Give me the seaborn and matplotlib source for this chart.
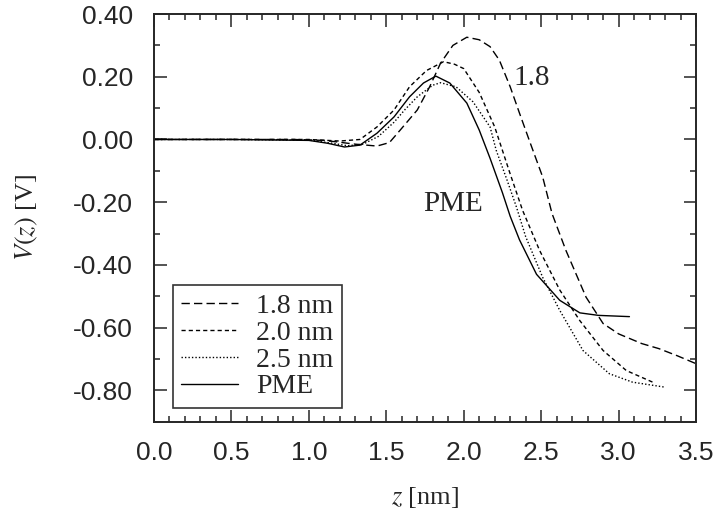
import numpy as np
import pandas as pd
import matplotlib
matplotlib.use('Agg')
import matplotlib.pyplot as plt
from matplotlib.ticker import MultipleLocator
import seaborn as sns

# Curves (z in nm, V in volts)
z_18 = [0.0, 0.5, 0.9, 1.1, 1.3, 1.44, 1.52, 1.59, 1.70, 1.78, 1.85, 1.93, 2.02, 2.10, 2.17,
        2.23, 2.30, 2.36, 2.43, 2.51, 2.57, 2.66, 2.79, 2.90, 3.00, 3.15, 3.26, 3.38, 3.50]
v_18 = [0.0, 0.0, 0.0, -0.003, -0.015, -0.021, -0.01, 0.03, 0.094, 0.168, 0.243, 0.30, 0.326, 0.318, 0.296,
        0.253, 0.168, 0.084, -0.012, -0.12, -0.236, -0.354, -0.503, -0.587, -0.62, -0.651, -0.667, -0.69, -0.715]

z_20 = [0.0, 0.5, 1.0, 1.2, 1.33, 1.44, 1.55, 1.65, 1.76, 1.87, 1.94, 2.00, 2.10, 2.20, 2.30,
        2.38, 2.49, 2.62, 2.75, 2.90, 3.05, 3.22]
v_20 = [0.0, 0.0, 0.0, -0.005, 0.0, 0.04, 0.094, 0.168, 0.22, 0.248, 0.24, 0.226, 0.15, 0.04, -0.11,
        -0.226, -0.354, -0.48, -0.578, -0.673, -0.737, -0.774]

z_25 = [0.0, 0.5, 1.0, 1.15, 1.25, 1.35, 1.45, 1.55, 1.62, 1.70, 1.80, 1.85, 1.95, 2.06, 2.17,
        2.21, 2.28, 2.34, 2.40, 2.51, 2.62, 2.77, 2.94, 3.09, 3.30]
v_25 = [0.0, 0.0, -0.002, -0.012, -0.02, -0.015, 0.01, 0.055, 0.095, 0.136, 0.173, 0.181, 0.168, 0.12, 0.04,
        -0.035, -0.13, -0.215, -0.31, -0.44, -0.545, -0.673, -0.747, -0.774, -0.79]

z_pme = [0.0, 0.5, 1.0, 1.12, 1.23, 1.33, 1.44, 1.55, 1.65, 1.74, 1.82, 1.91, 2.02, 2.10, 2.17,
         2.25, 2.30, 2.36, 2.47, 2.62, 2.75, 2.87, 3.07]
v_pme = [0.0, 0.0, -0.003, -0.012, -0.024, -0.018, 0.02, 0.072, 0.136, 0.18, 0.202, 0.18, 0.116, 0.03, -0.06,
         -0.17, -0.245, -0.32, -0.43, -0.513, -0.553, -0.561, -0.565]

labels = ['1.8 nm', '2.0 nm', '2.5 nm', 'PME']

frames = []
for lab, z, v in zip(labels, [z_18, z_20, z_25, z_pme], [v_18, v_20, v_25, v_pme]):
    frames.append(pd.DataFrame({'z': z, 'V': v, 'cutoff': lab}))
df = pd.concat(frames, ignore_index=True)

sns.set_style('ticks')
plt.rcParams['font.family'] = ['Liberation Sans', 'DejaVu Sans']
plt.rcParams['mathtext.fontset'] = 'stix'

fig = plt.figure(figsize=(7.2, 5.16), dpi=100)
ax = fig.add_axes([0.2139, 0.1828, 0.7528, 0.790])

dashes = {'1.8 nm': (6, 3), '2.0 nm': (3, 2.2), '2.5 nm': (1, 1.5), 'PME': ''}
sns.lineplot(data=df, x='z', y='V', style='cutoff', dashes=dashes, color='black',
             linewidth=1.0, sort=False, estimator=None, ax=ax)

ax.set_xlim(0, 3.5)
ax.set_ylim(-0.9, 0.4)
ax.xaxis.set_major_locator(MultipleLocator(0.5))
ax.xaxis.set_minor_locator(MultipleLocator(0.1))
ax.yaxis.set_major_locator(MultipleLocator(0.2))
ax.yaxis.set_minor_locator(MultipleLocator(0.1))
ax.xaxis.set_major_formatter(lambda t, pos: f'{t:.1f}')
ax.yaxis.set_major_formatter(lambda t, pos: f'{t:.2f}')
ax.tick_params(which='both', direction='in', top=True, right=True, labelsize=19, width=1.1)
ax.tick_params(which='major', length=9)
ax.tick_params(which='minor', length=4.5)
ax.tick_params(axis='x', pad=14)
ax.tick_params(axis='y', pad=15)
for s in ax.spines.values():
    s.set_linewidth(1.4)

serif = ['Liberation Serif', 'DejaVu Serif']
ax.set_xlabel(r'$z$ [nm]', fontsize=19, family=serif, labelpad=14)
ax.set_ylabel(r'$V(z)$ [V]', fontsize=19, family=serif, labelpad=24)

ax.text(2.44, 0.196, '1.8', fontsize=21, family=serif, ha='center', va='center')
ax.text(1.93, -0.205, 'PME', fontsize=21, family=serif, ha='center', va='center')

leg = ax.legend(loc='lower left', bbox_to_anchor=(0.0345, 0.034), borderaxespad=0,
                frameon=True, fancybox=False, edgecolor='black',
                prop={'family': serif, 'size': 20}, handlelength=2.05,
                borderpad=0.3, labelspacing=0.05, handletextpad=0.65)
leg.get_frame().set_linewidth(1.2)
for h in leg.get_lines():
    h.set_linewidth(1.0)

fig.savefig('out.png', dpi=100)
